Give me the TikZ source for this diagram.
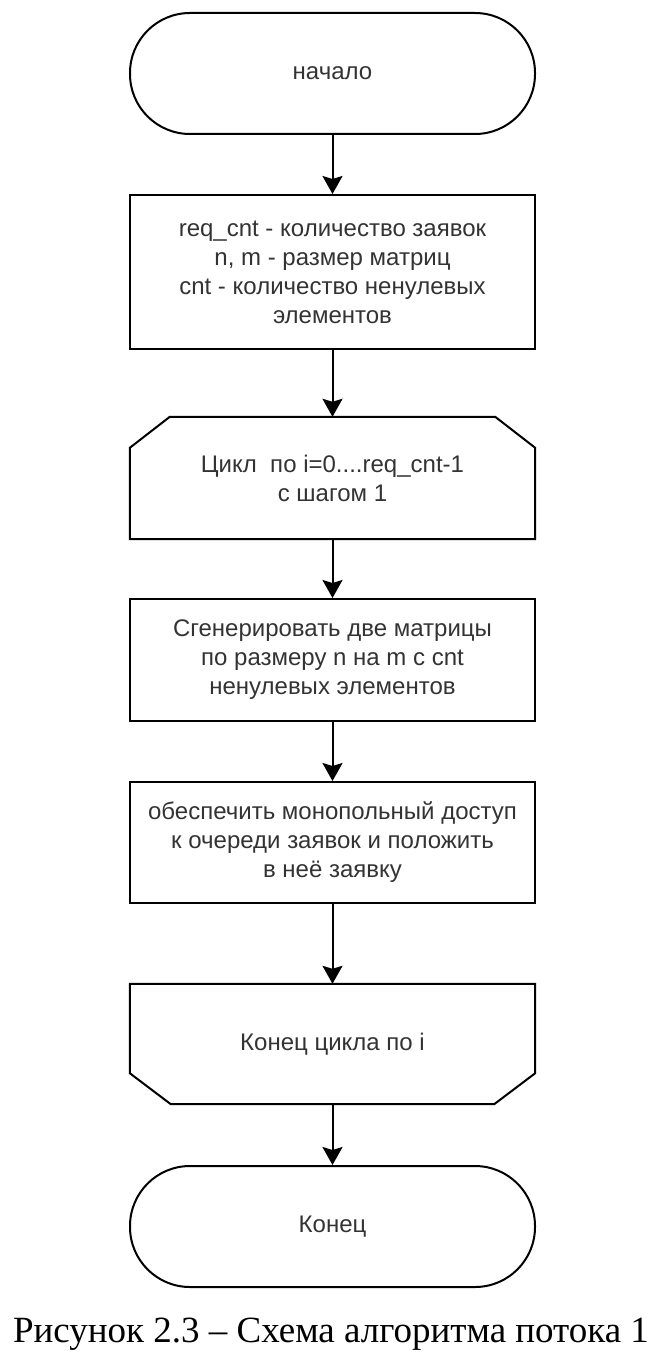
\documentclass[tikz,border=0pt]{standalone}
\usepackage{fontspec}
\newfontfamily\arial{Liberation Sans}
\newfontfamily\capfont{Liberation Serif}
\usetikzlibrary{arrows.meta}
\tikzset{
  shp/.style={minimum width=405pt, inner sep=0pt, align=center,
    font=\arial\fontsize{24}{29}\selectfont, text=black!80},
  term/.style={shp, draw, line width=2pt, rounded corners=60pt},
  proc/.style={shp, draw, line width=2pt},
  loopbox/.style={shp},
  flow/.style={-{Stealth[length=18pt,width=20pt,inset=3pt]}, line width=2pt},
  outline/.style={line width=2pt, line join=miter}
}
\begin{document}
\begin{tikzpicture}[x=1pt,y=1pt]
\useasboundingbox (0,0) rectangle (668,-1364);
\node[term, minimum height=121pt] (start) at (332.5,-73.5) {начало};
\node[proc, minimum height=154pt] (b1) at (332.5,-272)
  {req\_cnt - количество заявок\\n, m - размер матриц\\cnt - количество ненулевых\\элементов};
\node[loopbox, minimum height=122pt] (lp) at (332.5,-478)
  {Цикл\ \ по i=0....req\_cnt-1\\с шагом\ 1};
\node[proc, minimum height=122pt] (b2) at (332.5,-660)
  {Сгенерировать две матрицы\\по размеру n на m c cnt\\ненулевых элементов};
\node[proc, minimum height=121pt] (b3) at (332.5,-842.5)
  {обеспечить монопольный доступ\\к очереди заявок и положить\\в неё заявку};
\node[loopbox, minimum height=120pt] (le) at (332.5,-1044) {Конец цикла по i};
\node[term, minimum height=121pt] (fin) at (332.5,-1226.5) {Конец};
\draw[outline] ([xshift=40pt]lp.north west) -- ([xshift=-40pt]lp.north east)
  -- ([yshift=-31pt]lp.north east) -- (lp.south east) -- (lp.south west)
  -- ([yshift=-31pt]lp.north west) -- cycle;
\draw[outline] (le.north west) -- (le.north east) -- ([yshift=31pt]le.south east)
  -- ([xshift=-41pt]le.south east) -- ([xshift=41pt]le.south west)
  -- ([yshift=31pt]le.south west) -- cycle;
\draw[flow] (start) -- (b1);
\draw[flow] (b1) -- (lp);
\draw[flow] (lp) -- (b2);
\draw[flow] (b2) -- (b3);
\draw[flow] (b3) -- (le);
\draw[flow] (le) -- (fin);
\node[anchor=base, inner sep=0pt, font=\capfont\fontsize{37}{44}\selectfont] (cap) at (331,-1342)
  {Рисунок 2.3 – Схема алгоритма потока 1};
\end{tikzpicture}
\end{document}
